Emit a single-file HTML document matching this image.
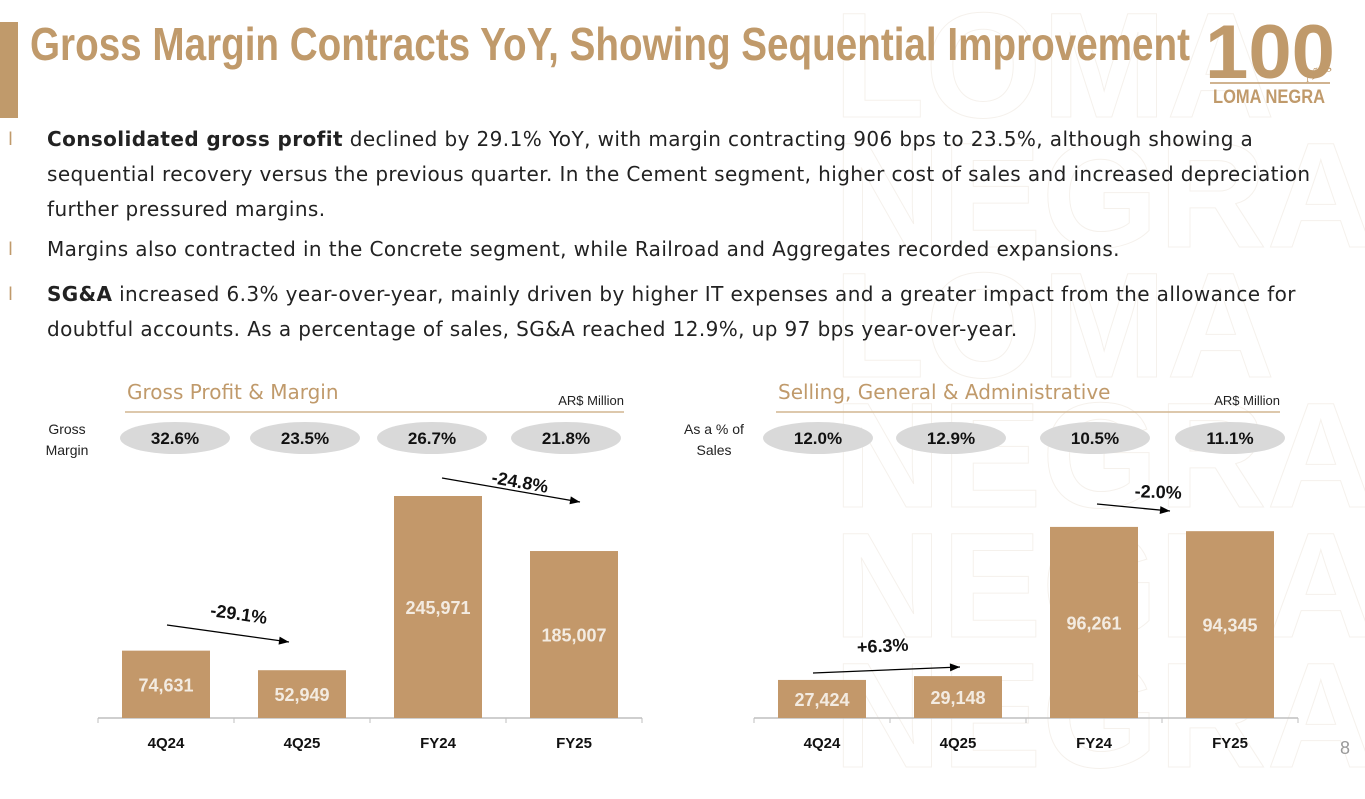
<!DOCTYPE html>
<html><head><meta charset="utf-8">
<style>
body{margin:0;width:1365px;height:768px;background:#fff;overflow:hidden;position:relative;font-family:"Liberation Sans",sans-serif}
.wm{position:absolute;right:-10px;font:bold 150px "Liberation Sans Narrow","Liberation Sans",sans-serif;color:transparent;-webkit-text-stroke:1px #f5f1ec;line-height:130px}
.body{position:absolute;left:47px;top:122px;width:1318px;font-family:"DejaVu Sans",sans-serif;font-size:20px;letter-spacing:0.4px;color:#222;line-height:35px;white-space:nowrap}
.body p{margin:0 0 5px 0;position:relative}
.body p .bl{position:absolute;left:-39px;color:#c09a6b;font-size:18px}
</style></head><body>
<div class="wm" style="top:0">LOMA<br>NEGRA<br>LOMA<br>NEGRA<br>NEGRA<br>NEGRA</div>
<div style="position:absolute;left:0;top:22px;width:18px;height:96px;background:#c09a6b"></div>
<svg style="position:absolute;left:0;top:0" width="1200" height="80"><text x="30" y="60" textLength="1160" lengthAdjust="spacingAndGlyphs" font-family="Liberation Sans Narrow, Liberation Sans, sans-serif" font-weight="bold" font-size="46" fill="#c09a6b">Gross Margin Contracts YoY, Showing Sequential Improvement</text></svg>
<svg style="position:absolute;left:1200px;top:10px" width="150" height="100">
<text x="5" y="68" font-family="Liberation Sans Narrow, Liberation Sans, sans-serif" font-weight="bold" font-size="76" fill="#c09a6b" textLength="130" lengthAdjust="spacingAndGlyphs">100</text>
<text x="105" y="68" font-family="Liberation Serif, serif" font-style="italic" font-size="14" fill="#c09a6b" transform="rotate(-25 115 65)">Años</text>
<line x1="10" y1="73" x2="130" y2="73" stroke="#c09a6b" stroke-width="1.5"/>
<text x="13" y="93" font-family="Liberation Sans Narrow, Liberation Sans, sans-serif" font-weight="bold" font-size="19" fill="#c09a6b" textLength="112" lengthAdjust="spacingAndGlyphs">LOMA NEGRA</text>
</svg>
<div class="body">
<p><span class="bl">l</span><b>Consolidated gross profit</b> declined by 29.1% YoY, with margin contracting 906 bps to 23.5%, although showing a<br>sequential recovery versus the previous quarter. In the Cement segment, higher cost of sales and increased depreciation<br>further pressured margins.</p>
<p><span class="bl">l</span>Margins also contracted in the Concrete segment, while Railroad and Aggregates recorded expansions.</p>
<p style="margin-top:10px"><span class="bl">l</span><b>SG&amp;A</b> increased 6.3% year-over-year, mainly driven by higher IT expenses and a greater impact from the allowance for<br>doubtful accounts. As a percentage of sales, SG&amp;A reached 12.9%, up 97 bps year-over-year.</p>
</div>
<svg id="ch" style="position:absolute;left:0;top:0" width="1365" height="768"></svg>
<div style="position:absolute;left:1340px;top:738px;font-size:18px;color:#999">8</div>
<script>
const categories=["4Q24","4Q25","FY24","FY25"];
const gpValues=[74631,52949,245971,185007];
const gpMargins=["32.6%","23.5%","26.7%","21.8%"];
const sgaValues=[27424,29148,96261,94345];
const sgaPct=["12.0%","12.9%","10.5%","11.1%"];
const gpChanges=["-29.1%","-24.8%"];
const sgaChanges=["+6.3%","-2.0%"];
const NS="http://www.w3.org/2000/svg";
const svg=document.getElementById('ch');
function el(t,a,txt){const e=document.createElementNS(NS,t);for(const k in a)e.setAttribute(k,a[k]);if(txt!==undefined)e.textContent=txt;svg.appendChild(e);return e;}
function chart(cfg){
  const base=718, left=cfg.left, step=136, bw=88;
  const y=v=>base-(v-cfg.min)*cfg.scale;
  const xc=i=>left+24+bw/2+i*step;
  let t=el('text',{x:cfg.titleX,y:399,'font-size':20,fill:'#c09a6b','font-family':'DejaVu Sans, sans-serif'},cfg.title);
  
  el('line',{x1:cfg.titleX-2,y1:412,x2:left+526,y2:412,stroke:'#d2b690','stroke-width':1.5});
  el('text',{x:left+526,y:405,'font-size':13,'text-anchor':'end',fill:'#222'},'AR$ Million');
  const ll=cfg.rowLabel;
  el('text',{x:cfg.rowX,y:434,'font-size':14,'text-anchor':'middle',fill:'#222'},ll[0]);
  el('text',{x:cfg.rowX,y:455,'font-size':14,'text-anchor':'middle',fill:'#222'},ll[1]);
  cfg.pills.forEach((p,i)=>{
    const e=el('ellipse',{cx:cfg.pillX[i],cy:438,rx:55,ry:16,fill:'#d9d9d9'});
    
    el('text',{x:cfg.pillX[i],y:444,'font-size':17,'font-weight':'bold','text-anchor':'middle',fill:'#111'},p);
  });
  el('line',{x1:left,y1:base,x2:left+544,y2:base,stroke:'#bfbfbf','stroke-width':1.5});
  for(let i=0;i<=4;i++)el('line',{x1:left+i*step,y1:base,x2:left+i*step,y2:base+5,stroke:'#bfbfbf'});
  cfg.values.forEach((v,i)=>{
    const top=y(v);
    const r=el('rect',{x:xc(i)-bw/2,y:top,width:bw,height:base-top,fill:'#c3986a'});
    
    
    el('text',{x:xc(i),y:(top+base)/2+7,'font-size':18,'font-weight':'bold','text-anchor':'middle',fill:'#f3ebe1'},v.toLocaleString('en-US'));
    el('text',{x:xc(i),y:base+30,'font-size':15,'font-weight':'bold','text-anchor':'middle',fill:'#111'},categories[i]);
  });
  cfg.arrows.forEach((a,k)=>{
    el('line',{x1:a[0],y1:a[1],x2:a[2],y2:a[3],stroke:'#000','stroke-width':1.3});
    const ang=Math.atan2(a[3]-a[1],a[2]-a[0]);
    const hx=a[2],hy=a[3];
    el('polygon',{points:`${hx},${hy} ${hx-10*Math.cos(ang)+4*Math.sin(ang)},${hy-10*Math.sin(ang)-4*Math.cos(ang)} ${hx-10*Math.cos(ang)-4*Math.sin(ang)},${hy-10*Math.sin(ang)+4*Math.cos(ang)}`,fill:'#000'});
    el('text',{x:a[4],y:a[5],'font-size':18,'font-weight':'bold','text-anchor':'middle',fill:'#111',transform:`rotate(${a[6]} ${a[4]} ${a[5]})`},cfg.changes[k]);
  });
}
chart({left:98,min:0,scale:222/245971,title:'Gross Profit & Margin',titleX:127,rowLabel:['Gross','Margin'],rowX:67,
  pills:gpMargins,pillX:[175,305,432,566],values:gpValues,changes:gpChanges,
  arrows:[[167,625,289,642,238,620,8],[442,478,580,502,519,488,10]]});
chart({left:754,min:10300,scale:0.002223,title:'Selling, General & Administrative',titleX:778,rowLabel:['As a % of','Sales'],rowX:714,
  pills:sgaPct,pillX:[818,951,1095,1230],values:sgaValues,changes:sgaChanges,
  arrows:[[813,673,960,667,883,652,-3],[1097,504,1170,511,1158,498,2]]});
</script>
</body></html>
